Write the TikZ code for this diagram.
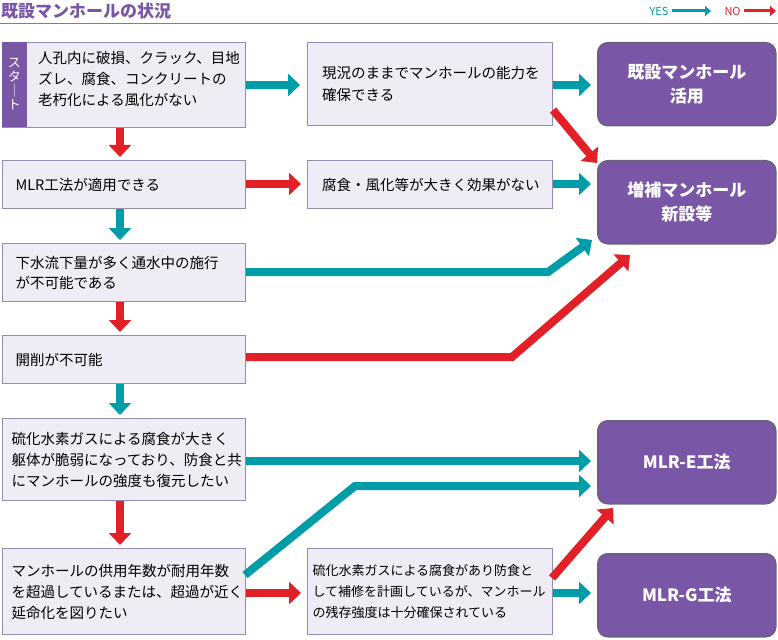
\documentclass[tikz,border=0pt]{standalone}
\usepackage{fontspec}
\setmainfont{Noto Sans CJK JP}
\usetikzlibrary{arrows.meta,calc}
\definecolor{teal1}{RGB}{0,156,168}
\definecolor{red1}{RGB}{226,32,40}
\definecolor{pur}{RGB}{122,86,166}
\definecolor{lav}{RGB}{240,236,246}
\definecolor{bord}{RGB}{150,140,175}
\begin{document}
\begin{tikzpicture}[x=1pt,y=-1pt,
 box/.style={draw=bord,line width=1.2pt,fill=lav,anchor=north west,inner sep=0pt,font=\fontsize{14.5}{20}\selectfont},
 res/.style={draw=bord!70!black,line width=1.5pt,fill=pur,rounded corners=10pt,anchor=north west,minimum width=178pt,text=white,font=\bfseries\fontsize{17}{24}\selectfont,align=center},
 yes/.style={draw=teal1,line width=8pt,-{Triangle[length=12pt,width=22pt]}},
 no/.style={draw=red1,line width=8pt,-{Triangle[length=12pt,width=22pt]}}]
\useasboundingbox (0,0) rectangle (778,639);
\node[anchor=west,text=pur,font=\bfseries\fontsize{17}{18}\selectfont,inner sep=1pt] (title) at (0,11) {既設マンホールの状況};
\draw[gray,line width=1pt] (0,24) -- (778,24);
\node[anchor=west,text=teal1,font=\fontsize{11}{12}\selectfont] (yesl) at (646,11) {YES};
\node[anchor=west,text=red1,font=\fontsize{11}{12}\selectfont] (nol) at (721,11) {NO};
\coordinate (ya) at (711,11); \coordinate (na) at (776,11);
\draw[draw=teal1,line width=3pt,-{Triangle[length=6pt,width=10pt]}] (yesl.east) -- (ya);
\draw[draw=red1,line width=3pt,-{Triangle[length=6pt,width=10pt]}] (nol.east) -- (na);
% left column
\node[box,minimum width=243pt,minimum height=85pt] (s1) at (2,42) {};
\fill[pur] (s1.north west) rectangle ++(25,85);
\node[anchor=center,text=white,font=\fontsize{13}{14}\selectfont,align=center,inner sep=0pt] (st) at (14.5,84.5) {ス\\タ\\｜\\ト};
\node[anchor=north west,align=left,font=\fontsize{14.5}{21}\selectfont,inner sep=0pt] (s1t) at (38,51) {人孔内に破損、クラック、目地\\ズレ、腐食、コンクリートの\\老朽化による風化がない};
\node[box,minimum width=243pt,minimum height=48pt,text width=231pt,align=left] (s2) at (2,160) {\hspace*{7pt}MLR工法が適用できる};
\node[box,minimum width=243pt,minimum height=58pt,text width=231pt,align=left] (s3) at (2,243) {\hspace*{7pt}\parbox{225pt}{下水流下量が多く通水中の施行\\が不可能である}};
\node[box,minimum width=243pt,minimum height=48pt,text width=231pt,align=left] (s4) at (2,335) {\hspace*{7pt}開削が不可能};
\node[box,minimum width=243pt,minimum height=82pt,align=left] (s5) at (2,418) {\hspace*{7pt}\parbox{232pt}{\baselineskip=21pt 硫化水素ガスによる腐食が大きく\\躯体が脆弱になっており、防食と共\\にマンホールの強度も復元したい}};
\node[box,minimum width=243pt,minimum height=86pt,align=left] (s6) at (2,548) {\hspace*{7pt}\parbox{232pt}{\baselineskip=21pt マンホールの供用年数が耐用年数\\を超過しているまたは、超過が近く\\延命化を図りたい}};
% middle
\node[box,minimum width=245pt,minimum height=83pt,align=left] (m1) at (307,42) {\hspace*{12pt}\parbox{228pt}{\baselineskip=22pt 現況のままでマンホールの能力を\\確保できる}};
\node[box,minimum width=245pt,minimum height=48pt,align=left] (m2) at (307,160) {\hspace*{12pt}\parbox{228pt}{腐食・風化等が大きく効果がない}};
\node[box,minimum width=245pt,minimum height=86pt,align=left,font=\fontsize{13}{19}\selectfont] (m3) at (307,548) {\hspace*{5pt}\parbox{240pt}{\baselineskip=21pt 硫化水素ガスによる腐食があり防食と\\して補修を計画しているが、マンホール\\の残存強度は十分確保されている}};
% right
\node[res,minimum height=83pt] (r1) at (597,42) {既設マンホール\\活用};
\node[res,minimum height=83pt] (r2) at (597,160) {増補マンホール\\新設等};
\node[res,minimum height=83pt] (r3) at (597,420) {MLR-E工法};
\node[res,minimum height=83pt] (r4) at (597,553) {MLR-G工法};
% arrows
\coordinate (a1) at (300,85); \draw[yes] (s1.east|-a1) -- (a1);
\coordinate (a2) at (591,85); \draw[yes] (m1.east|-a2) -- (a2);
\coordinate (a3) at (597,163); \draw[no] (553,110) -- (a3);
\coordinate (b1) at (120,157); \draw[no] (s1.south-|b1) -- (b1);
\coordinate (a4) at (301,184); \draw[no] (s2.east|-a4) -- (a4);
\coordinate (a5) at (591,184); \draw[yes] (m2.east|-a5) -- (a5);
\coordinate (b2) at (120,240); \draw[yes] (s2.south-|b2) -- (b2);
\coordinate (c1) at (548,272); \coordinate (c2) at (592,240);
\draw[yes] (s3.east|-c1) -- (c1) -- (c2);
\coordinate (b3) at (120,332); \draw[no] (s3.south-|b3) -- (b3);
\coordinate (c3) at (512,357); \coordinate (c4) at (630,255);
\draw[no] (s4.east|-c3) -- (c3) -- (c4);
\coordinate (b4) at (120,415); \draw[yes] (s4.south-|b4) -- (b4);
\coordinate (a6) at (591,461); \draw[yes] (s5.east|-a6) -- (a6);
\coordinate (b5) at (120,545); \draw[no] (s5.south-|b5) -- (b5);
\coordinate (c5) at (245,575); \coordinate (c6) at (355,486); \coordinate (c7) at (591,486);
\draw[yes] (c5) -- (c6) -- (c7);
\coordinate (a7) at (301,593); \draw[no] (s6.east|-a7) -- (a7);
\coordinate (a8) at (591,593); \draw[yes] (m3.east|-a8) -- (a8);
\coordinate (c8) at (552,578); \coordinate (c9) at (613,508);
\draw[no] (c8) -- (c9);
\end{tikzpicture}
\end{document}
